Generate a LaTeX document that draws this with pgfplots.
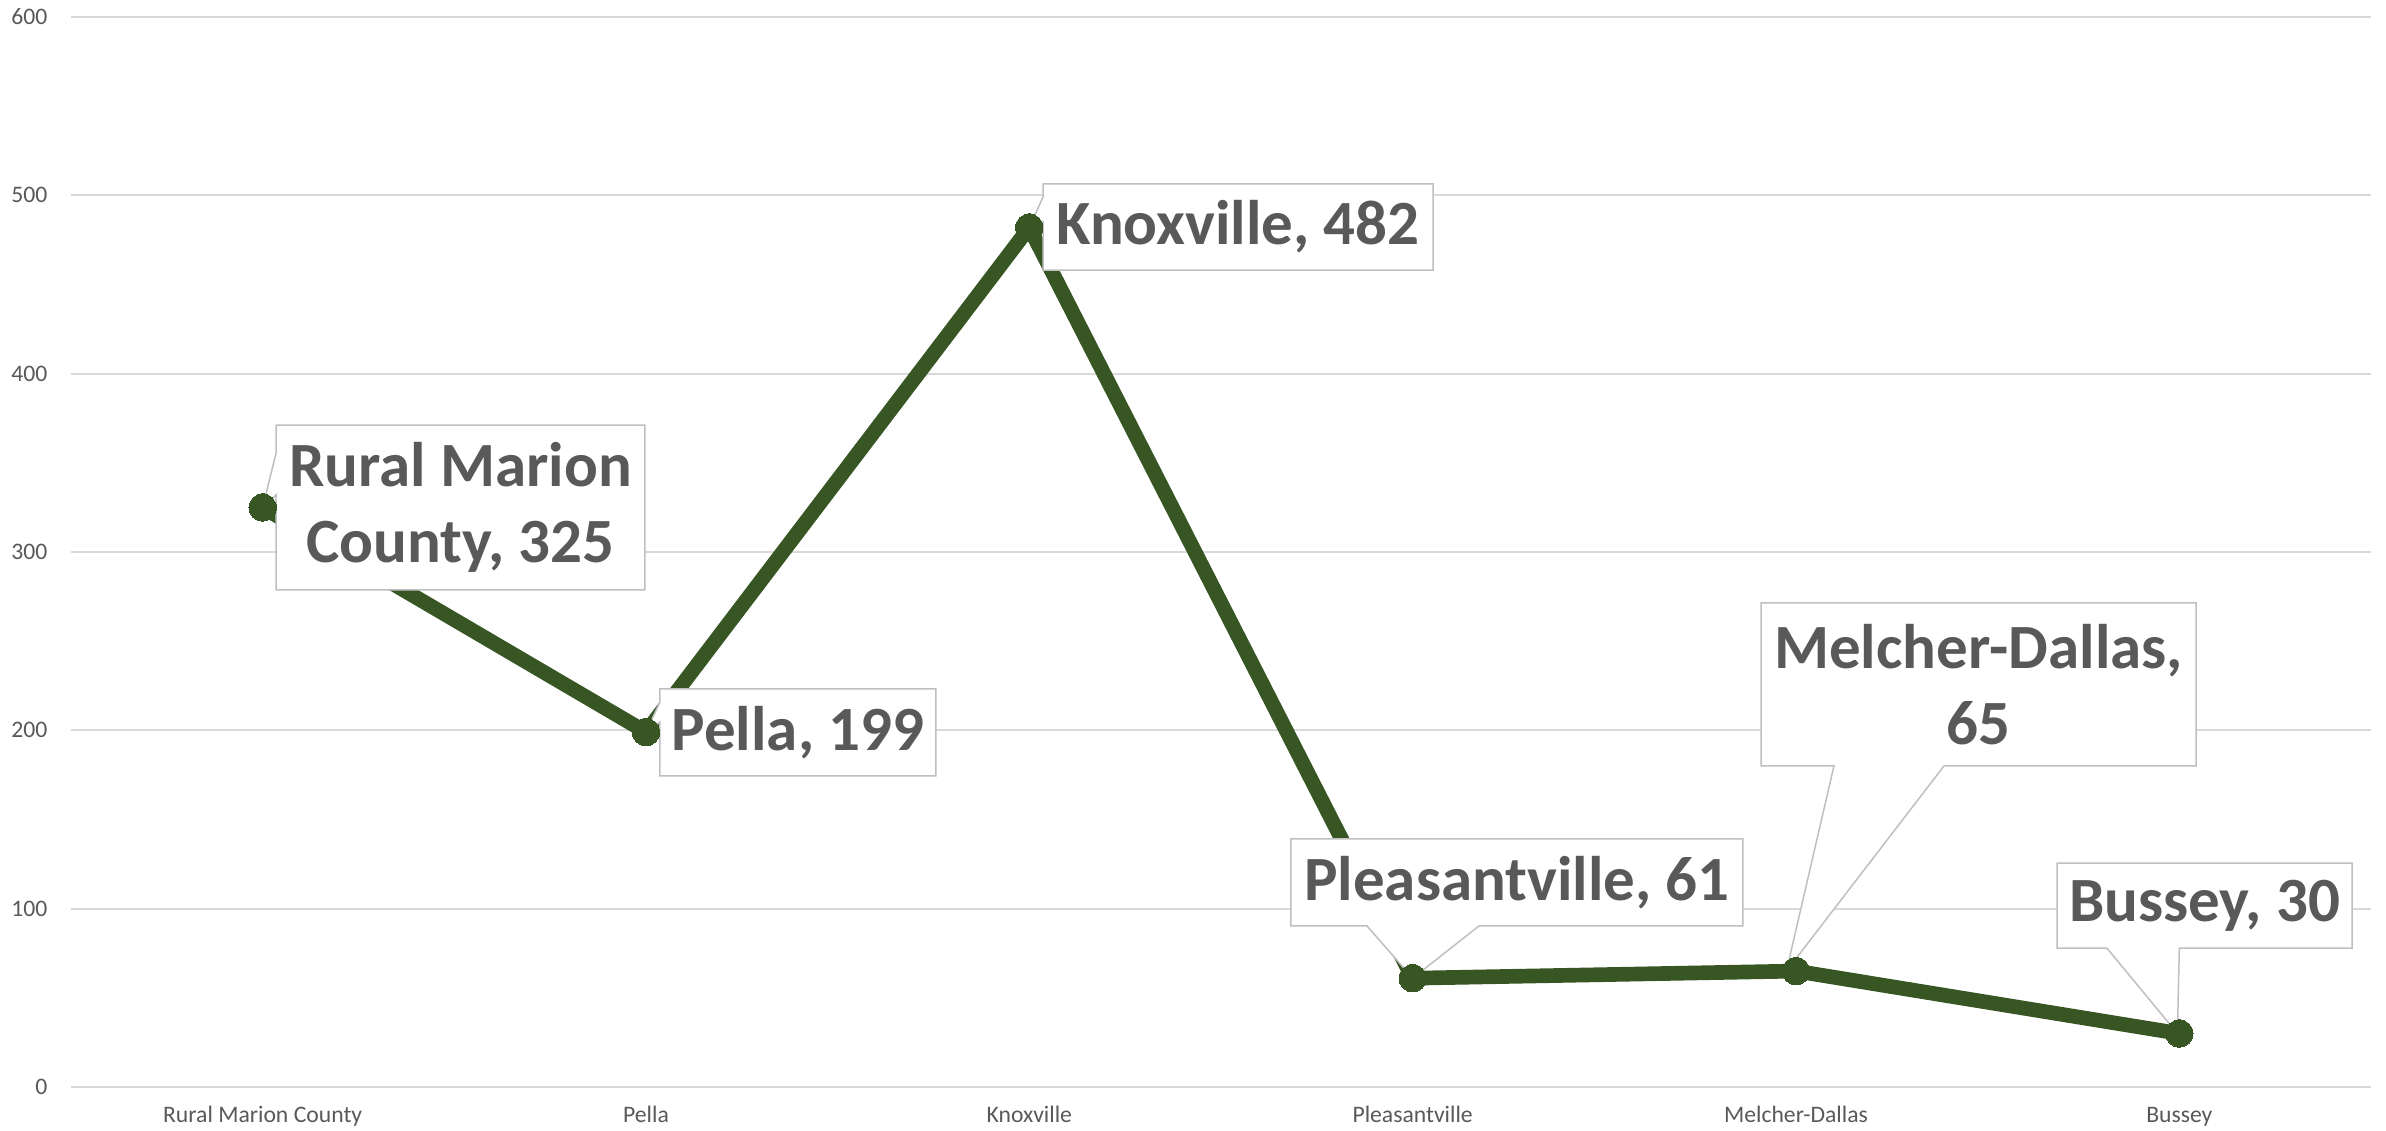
\documentclass[border=0pt]{standalone}
\usepackage{pgfplots}
\pgfplotsset{compat=1.18}
\usepackage{fontspec}
\setmainfont{Carlito}
\definecolor{lineg}{HTML}{375623}
\definecolor{txt}{HTML}{595959}
\definecolor{gridc}{HTML}{D9D9D9}
\definecolor{boxc}{HTML}{BFBFBF}
\tikzset{callout/.style={draw=boxc, fill=white, line width=0.45pt, line join=miter},
  clabel/.style={align=center, inner sep=0pt, text=txt, font=\fontsize{18.9}{23}\selectfont\bfseries}}
\begin{document}
\begin{tikzpicture}
\begin{axis}[
  at={(0,0)}, anchor=south west,
  scale only axis, width=690pt, height=321pt,
  xmin=-0.5, xmax=5.5, ymin=0, ymax=600,
  xtick={0,1,2,3,4,5},
  xticklabels={Rural Marion County, Pella, Knoxville, Pleasantville, Melcher-Dallas, Bussey},
  ytick={0,100,200,300,400,500,600},
  ymajorgrids, major grid style={gridc, line width=0.6pt},
  axis line style={draw=none},
  major tick length=0pt,
  /pgf/number format/assume math mode=true,
  ticklabel style={font=\fontsize{7.1}{8.5}\selectfont, text=txt, inner sep=0pt},
  yticklabel style={anchor=east, xshift=-6.9pt},
  xticklabel style={anchor=base, yshift=-10.8pt},
  clip=false,
]
\addplot[lineg, line width=4.4pt, line join=round, mark=*, mark size=4.1pt,
  mark options={fill=lineg, draw=lineg, line width=0pt}]
  coordinates {(0,325) (1,199) (2,482) (3,61) (4,65) (5,30)};

% Rural Marion County
\draw[callout] (axis cs:0.035,371.2) -- (axis cs:0.997,371.2) -- (axis cs:0.997,278.7) -- (axis cs:0.035,278.7)
  -- (axis cs:0.035,332.0) -- (axis cs:0,325) -- (axis cs:0.035,355.5) -- cycle;
\node[clabel] at (axis cs:0.516,325.0) {Rural Marion\\County, 325};
% Pella
\draw[callout] (axis cs:1.0365,223.2) -- (axis cs:1.7565,223.2) -- (axis cs:1.7565,174.4) -- (axis cs:1.0365,174.4)
  -- (axis cs:1.0365,204.7) -- (axis cs:1,199) -- (axis cs:1.0365,215.9) -- cycle;
\node[clabel] at (axis cs:1.3965,198.8) {Pella, 199};
% Knoxville
\draw[callout] (axis cs:2.0357,506.4) -- (axis cs:3.0531,506.4) -- (axis cs:3.0531,458.1) -- (axis cs:2.0357,458.1)
  -- (axis cs:2.0357,485.0) -- (axis cs:2,482) -- (axis cs:2.0357,499.1) -- cycle;
\node[clabel] at (axis cs:2.544,482.2) {Knoxville, 482};
% Pleasantville
\draw[callout] (axis cs:2.6826,139.1) -- (axis cs:3.8617,139.1) -- (axis cs:3.8617,90.3) -- (axis cs:3.173,90.3)
  -- (axis cs:3,61) -- (axis cs:2.881,90.3) -- (axis cs:2.6826,90.3) -- cycle;
\node[clabel] at (axis cs:3.272,114.7) {Pleasantville, 61};
% Melcher-Dallas
\draw[callout] (axis cs:3.909,271.4) -- (axis cs:5.044,271.4) -- (axis cs:5.044,180.0) -- (axis cs:4.386,180.0)
  -- (axis cs:3.975,65) -- (axis cs:4.099,180.0) -- (axis cs:3.909,180.0) -- cycle;
\node[clabel] at (axis cs:4.4765,225.7) {Melcher-Dallas,\\65};
% Bussey
\draw[callout] (axis cs:4.681,125.6) -- (axis cs:5.4505,125.6) -- (axis cs:5.4505,77.9) -- (axis cs:5.0,77.9)
  -- (axis cs:4.995,30) -- (axis cs:4.811,77.9) -- (axis cs:4.681,77.9) -- cycle;
\node[clabel] at (axis cs:5.066,101.8) {Bussey, 30};
\end{axis}
\pgfresetboundingbox
\useasboundingbox (-21.3pt,-13.2pt) rectangle (694.5pt,326.1pt);
\end{tikzpicture}
\end{document}
